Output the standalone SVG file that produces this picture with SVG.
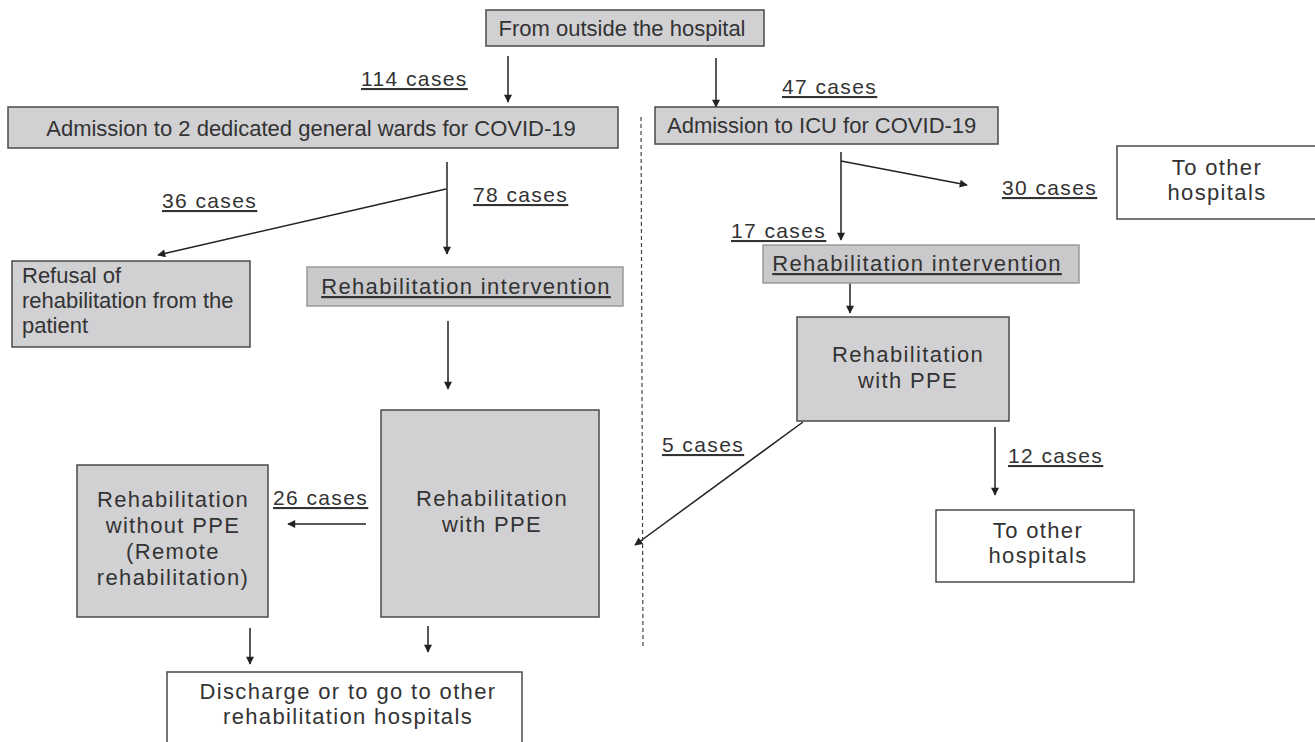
<svg xmlns="http://www.w3.org/2000/svg" width="1315" height="742" viewBox="0 0 1315 742">
<defs>
<marker id="ah" viewBox="0 0 10 10" refX="9" refY="5" markerWidth="9" markerHeight="8" markerUnits="userSpaceOnUse" orient="auto">
<path d="M0,0 L10,5 L0,10 z" fill="#222"/>
</marker>
<style>
.g{fill:#d1d1d3;stroke:#4a4a4a;stroke-width:1.5}
.gi{fill:#c9c9cb;stroke:#9a9a9a;stroke-width:1.5}
.w{fill:#fff;stroke:#4a4a4a;stroke-width:1.5}
text{font-family:"Liberation Sans","DejaVu Sans",sans-serif;fill:#333;font-size:22px}
.c{text-anchor:middle}
.u{text-decoration:underline}
.cs{font-size:21px;letter-spacing:1.4px}
.big{font-size:22px;letter-spacing:1.35px}
.ar{stroke:#222;stroke-width:1.5;fill:none;marker-end:url(#ah)}
</style>
</defs>
<rect width="1315" height="742" fill="#fff"/>

<g id="connectors">
<line class="ar" x1="508" y1="56" x2="508" y2="102"/>
<line class="ar" x1="716" y1="58" x2="716" y2="107"/>
<line class="ar" x1="447" y1="162" x2="447" y2="254"/>
<line class="ar" x1="446" y1="189" x2="158" y2="255"/>
<line class="ar" x1="448" y1="321" x2="448" y2="389"/>
<line class="ar" x1="366" y1="524" x2="288" y2="524"/>
<line class="ar" x1="250" y1="628" x2="250" y2="664"/>
<line class="ar" x1="428" y1="626" x2="428" y2="652"/>
<line class="ar" x1="841" y1="152" x2="841" y2="240"/>
<line class="ar" x1="841" y1="161" x2="967" y2="185"/>
<line class="ar" x1="850" y1="283" x2="850" y2="313"/>
<line class="ar" x1="803" y1="422" x2="635" y2="545"/>
<line class="ar" x1="995" y1="427" x2="995" y2="495"/>
<line x1="641" y1="117" x2="643" y2="649" stroke="#444" stroke-width="1.2" stroke-dasharray="4,3"/>
</g>

<g id="labels">
<text class="u cs" x="361" y="86">114 cases</text>
<text class="u cs" x="782" y="94">47 cases</text>
<text class="u cs" x="162" y="208">36 cases</text>
<text class="u cs" x="473" y="202">78 cases</text>
<text class="u cs" x="273" y="505">26 cases</text>
<text class="u cs" x="1002" y="195">30 cases</text>
<text class="u cs" x="731" y="238">17 cases</text>
<text class="u cs" x="662" y="452">5 cases</text>
<text class="u cs" x="1008" y="463">12 cases</text>
</g>

<g id="n-outside">
<rect class="g" x="486" y="10" width="278" height="36"/>
<text class="c" x="622" y="36">From outside the hospital</text>
</g>

<g id="n-general">
<rect class="g" x="8" y="107" width="610" height="41"/>
<text class="c" x="311" y="136">Admission to 2 dedicated general wards for COVID-19</text>
</g>

<g id="n-icu">
<rect class="g" x="655" y="107" width="343" height="37"/>
<text x="667" y="133">Admission to ICU for COVID-19</text>
</g>

<g id="n-refusal">
<rect class="g" x="12" y="261" width="238" height="86"/>
<text x="22" y="283">Refusal of</text>
<text x="22" y="308">rehabilitation from the</text>
<text x="22" y="333">patient</text>
</g>

<g id="n-intervention-left">
<rect class="gi" x="307" y="267" width="316" height="39"/>
<text class="c u big" x="466" y="294">Rehabilitation intervention</text>
</g>

<g id="n-ppe-left">
<rect class="g" x="381" y="410" width="218" height="207"/>
<text class="c big" x="492" y="506">Rehabilitation</text>
<text class="c big" x="492" y="532">with PPE</text>
</g>

<g id="n-noppe">
<rect class="g" x="77" y="465" width="191" height="152"/>
<text class="c big" x="173" y="507">Rehabilitation</text>
<text class="c big" x="173" y="533">without PPE</text>
<text class="c big" x="173" y="559">(Remote</text>
<text class="c big" x="173" y="585">rehabilitation)</text>
</g>

<g id="n-discharge">
<rect class="w" x="167" y="672" width="355" height="80"/>
<text class="c big" x="348" y="699">Discharge or to go to other</text>
<text class="c big" x="348" y="724">rehabilitation hospitals</text>
</g>

<g id="n-other1">
<rect class="w" x="1117" y="146" width="210" height="73"/>
<text class="c big" x="1217" y="175">To other</text>
<text class="c big" x="1217" y="200">hospitals</text>
</g>

<g id="n-intervention-right">
<rect class="gi" x="763" y="245" width="316" height="38"/>
<text class="c u big" x="917" y="271">Rehabilitation intervention</text>
</g>

<g id="n-ppe-right">
<rect class="g" x="797" y="317" width="212" height="104"/>
<text class="c big" x="908" y="362">Rehabilitation</text>
<text class="c big" x="908" y="388">with PPE</text>
</g>

<g id="n-other2">
<rect class="w" x="936" y="510" width="198" height="72"/>
<text class="c big" x="1038" y="538">To other</text>
<text class="c big" x="1038" y="563">hospitals</text>
</g>
</svg>
